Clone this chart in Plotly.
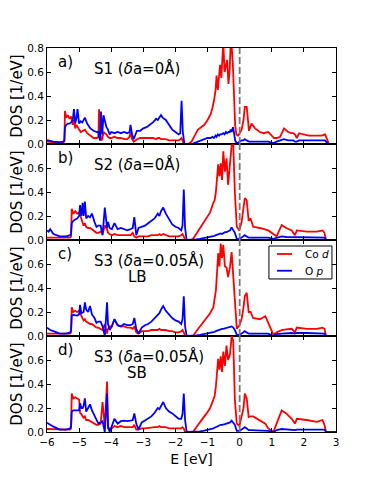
import plotly.graph_objects as go
from plotly.subplots import make_subplots

# energy grid for S1 (eV)
e_s1 = [-6.0, -5.8, -5.6, -5.5, -5.46, -5.44, -5.4, -5.35, -5.3, -5.25,
        -5.2, -5.16, -5.12, -5.08, -5.05, -5.0, -4.95, -4.9, -4.82, -4.75,
        -4.65, -4.55, -4.45, -4.4, -4.38, -4.35, -4.32, -4.28, -4.24, -4.2,
        -4.15, -4.1, -4.05, -4.0, -3.9, -3.8, -3.7, -3.6, -3.5, -3.43,
        -3.4, -3.35, -3.3, -3.2, -3.1, -3.0, -2.9, -2.8, -2.7, -2.6,
        -2.55, -2.5, -2.45, -2.4, -2.3, -2.2, -2.1, -2.0, -1.9, -1.85,
        -1.81, -1.77, -1.72, -1.6, -1.5, -1.4, -1.3, -1.2, -1.1, -1.0,
        -0.9, -0.85, -0.8, -0.75, -0.72, -0.68, -0.64, -0.61, -0.57, -0.54,
        -0.51, -0.47, -0.43, -0.39, -0.35, -0.31, -0.28, -0.25, -0.21, -0.18,
        -0.14, -0.1, -0.05, 0.0, 0.06, 0.12, 0.16, 0.22, 0.29, 0.37,
        0.48, 0.63, 0.75, 0.89, 1.0, 1.07, 1.15, 1.26, 1.38, 1.51,
        1.6, 1.67, 1.72, 1.78, 1.85, 1.98, 2.15, 2.29, 2.45, 2.55,
        2.66, 2.72, 2.78, 3.0]

cod_s1 = [0.02, 0.012, 0.01, 0.012, 0.02, 0.275, 0.22, 0.24, 0.21, 0.23,
          0.16, 0.20, 0.13, 0.16, 0.14, 0.12, 0.10, 0.11, 0.12, 0.09,
          0.07, 0.05, 0.05, 0.06, 0.29, 0.10, 0.03, 0.04, 0.10, 0.09,
          0.08, 0.06, 0.05, 0.05, 0.06, 0.05, 0.05, 0.04, 0.04, 0.06,
          0.10, 0.04, 0.02, 0.04, 0.05, 0.05, 0.05, 0.05, 0.05, 0.04,
          0.05, 0.05, 0.04, 0.04, 0.04, 0.03, 0.03, 0.03, 0.03, 0.04,
          0.05, 0.02, 0.0, 0.0, 0.02, 0.07, 0.12, 0.14, 0.16, 0.20,
          0.25, 0.30, 0.36, 0.45, 0.57, 0.45, 0.60, 0.66, 0.55, 0.68,
          0.85, 0.60, 0.64, 0.70, 0.50, 0.62, 0.85, 0.82, 0.65, 0.40,
          0.15, 0.08, 0.07, 0.09, 0.12, 0.20, 0.31, 0.31, 0.11, 0.17,
          0.13, 0.10, 0.09, 0.10, 0.07, 0.05, 0.05, 0.06, 0.13, 0.10,
          0.09, 0.09, 0.08, 0.05, 0.09, 0.08, 0.07, 0.07, 0.07, 0.07,
          0.08, 0.03, 0.0, 0.0]

op_s1 = [0.033, 0.02, 0.015, 0.02, 0.03, 0.14, 0.16, 0.17, 0.17, 0.18,
         0.20, 0.29, 0.17, 0.22, 0.29, 0.17, 0.19, 0.18, 0.22, 0.17,
         0.13, 0.11, 0.10, 0.10, 0.06, 0.03, 0.27, 0.08, 0.24, 0.20,
         0.14, 0.12, 0.08, 0.10, 0.09, 0.10, 0.09, 0.10, 0.09, 0.10,
         0.16, 0.08, 0.04, 0.11, 0.11, 0.13, 0.14, 0.16, 0.18, 0.21,
         0.20, 0.22, 0.24, 0.22, 0.20, 0.16, 0.12, 0.10, 0.08, 0.09,
         0.36, 0.10, 0.0, 0.0, 0.0, 0.01, 0.02, 0.03, 0.04, 0.05,
         0.05, 0.06, 0.05, 0.07, 0.06, 0.08, 0.07, 0.08, 0.08, 0.09,
         0.09, 0.08, 0.10, 0.09, 0.10, 0.10, 0.12, 0.10, 0.14, 0.10,
         0.03, 0.01, 0.01, 0.02, 0.03, 0.03, 0.04, 0.03, 0.02, 0.02,
         0.02, 0.02, 0.02, 0.02, 0.01, 0.01, 0.02, 0.03, 0.04, 0.03,
         0.03, 0.03, 0.02, 0.02, 0.03, 0.03, 0.03, 0.03, 0.03, 0.03,
         0.03, 0.01, 0.0, 0.0]

# energy grid shared by S2 and both S3 cases (eV)
e_s23 = [-6.0, -5.95, -5.9, -5.8, -5.6, -5.4, -5.28, -5.25, -5.23, -5.18,
         -5.12, -5.06, -5.0, -4.97, -4.93, -4.89, -4.86, -4.82, -4.78, -4.72,
         -4.66, -4.6, -4.52, -4.46, -4.4, -4.33, -4.27, -4.2, -4.13, -4.1,
         -4.05, -3.98, -3.9, -3.8, -3.7, -3.6, -3.5, -3.4, -3.33, -3.28,
         -3.22, -3.15, -3.05, -2.95, -2.85, -2.75, -2.65, -2.55, -2.5, -2.45,
         -2.38, -2.3, -2.2, -2.1, -2.0, -1.9, -1.82, -1.78, -1.74, -1.7,
         -1.65, -1.5, -1.45, -1.35, -1.24, -1.13, -1.03, -0.92, -0.82, -0.78,
         -0.74, -0.7, -0.67, -0.63, -0.59, -0.55, -0.51, -0.46, -0.41, -0.36,
         -0.3, -0.25, -0.2, -0.15, -0.09, -0.01, 0.06, 0.12, 0.16, 0.22,
         0.28, 0.34, 0.42, 0.63, 0.8, 0.89, 1.05, 1.15, 1.31, 1.45,
         1.62, 1.72, 1.78, 2.09, 2.4, 2.58, 2.64, 2.69, 3.0]

cod_s2 = [0.02, 0.02, 0.02, 0.015, 0.015, 0.015, 0.02, 0.03, 0.26, 0.22,
          0.24, 0.22, 0.23, 0.21, 0.17, 0.15, 0.12, 0.14, 0.11, 0.10,
          0.10, 0.09, 0.07, 0.06, 0.06, 0.07, 0.05, 0.12, 0.09, 0.06,
          0.05, 0.04, 0.05, 0.04, 0.04, 0.04, 0.035, 0.04, 0.06, 0.03,
          0.02, 0.03, 0.03, 0.03, 0.03, 0.04, 0.04, 0.04, 0.05, 0.04,
          0.05, 0.04, 0.03, 0.03, 0.03, 0.03, 0.04, 0.05, 0.03, 0.0,
          0.0, 0.0, 0.01, 0.05, 0.10, 0.14, 0.18, 0.23, 0.31, 0.33,
          0.40, 0.55, 0.63, 0.53, 0.64, 0.50, 0.74, 0.57, 0.68, 0.46,
          0.66, 0.79, 0.80, 0.40, 0.11, 0.08, 0.15, 0.25, 0.35, 0.33,
          0.16, 0.18, 0.11, 0.10, 0.09, 0.08, 0.05, 0.03, 0.125, 0.10,
          0.08, 0.04, 0.08, 0.07, 0.07, 0.08, 0.06, 0.0, 0.0]

op_s2 = [0.08, 0.07, 0.09, 0.05, 0.03, 0.03, 0.04, 0.05, 0.14, 0.16,
         0.17, 0.18, 0.20, 0.29, 0.20, 0.31, 0.20, 0.32, 0.18, 0.20,
         0.19, 0.22, 0.15, 0.11, 0.12, 0.12, 0.04, 0.27, 0.10, 0.15,
         0.10, 0.09, 0.14, 0.09, 0.10, 0.09, 0.08, 0.09, 0.10, 0.19,
         0.04, 0.10, 0.11, 0.12, 0.14, 0.16, 0.18, 0.22, 0.20, 0.24,
         0.27, 0.22, 0.18, 0.13, 0.11, 0.10, 0.08, 0.12, 0.42, 0.10,
         0.0, 0.0, 0.0, 0.005, 0.01, 0.015, 0.02, 0.025, 0.03, 0.035,
         0.04, 0.045, 0.05, 0.05, 0.055, 0.05, 0.06, 0.065, 0.065, 0.07,
         0.08, 0.105, 0.08, 0.06, 0.01, 0.01, 0.02, 0.03, 0.04, 0.03,
         0.02, 0.02, 0.02, 0.02, 0.02, 0.02, 0.01, 0.02, 0.03, 0.025,
         0.025, 0.02, 0.025, 0.025, 0.025, 0.025, 0.02, 0.0, 0.0]

cod_s3_lb = [0.02, 0.02, 0.02, 0.02, 0.02, 0.02, 0.02, 0.03, 0.24, 0.20,
             0.21, 0.20, 0.21, 0.19, 0.17, 0.14, 0.13, 0.14, 0.12, 0.11,
             0.10, 0.10, 0.08, 0.07, 0.07, 0.06, 0.05, 0.10, 0.02, 0.06,
             0.08, 0.08, 0.14, 0.09, 0.08, 0.08, 0.07, 0.07, 0.06, 0.08,
             0.03, 0.02, 0.04, 0.04, 0.04, 0.05, 0.05, 0.05, 0.06, 0.05,
             0.05, 0.05, 0.04, 0.04, 0.03, 0.03, 0.04, 0.05, 0.03, 0.0,
             0.0, 0.0, 0.0, 0.04, 0.08, 0.11, 0.15, 0.19, 0.24, 0.30,
             0.38, 0.55, 0.69, 0.58, 0.77, 0.65, 0.76, 0.58, 0.57, 0.49,
             0.58, 0.70, 0.49, 0.24, 0.06, 0.09, 0.14, 0.24, 0.33, 0.36,
             0.20, 0.20, 0.15, 0.14, 0.165, 0.11, 0.01, 0.03, 0.05, 0.055,
             0.06, 0.03, 0.07, 0.06, 0.06, 0.07, 0.06, 0.0, 0.0]

op_s3_lb = [0.07, 0.06, 0.05, 0.04, 0.02, 0.02, 0.03, 0.05, 0.17, 0.175,
            0.17, 0.17, 0.18, 0.26, 0.19, 0.20, 0.20, 0.28, 0.22, 0.20,
            0.25, 0.18, 0.15, 0.11, 0.12, 0.12, 0.08, 0.0, 0.28, 0.10,
            0.05, 0.08, 0.14, 0.09, 0.08, 0.10, 0.09, 0.09, 0.10, 0.15,
            0.06, 0.02, 0.07, 0.09, 0.10, 0.12, 0.15, 0.18, 0.19, 0.22,
            0.25, 0.21, 0.18, 0.15, 0.13, 0.12, 0.10, 0.14, 0.33, 0.08,
            0.0, 0.0, 0.0, 0.005, 0.01, 0.015, 0.02, 0.025, 0.03, 0.035,
            0.04, 0.045, 0.05, 0.05, 0.055, 0.06, 0.06, 0.065, 0.07, 0.07,
            0.075, 0.08, 0.07, 0.05, 0.01, 0.01, 0.02, 0.03, 0.04, 0.03,
            0.02, 0.02, 0.02, 0.02, 0.02, 0.02, 0.0, 0.015, 0.02, 0.025,
            0.025, 0.02, 0.025, 0.025, 0.025, 0.025, 0.02, 0.0, 0.0]

cod_s3_sb = [0.025, 0.025, 0.025, 0.02, 0.02, 0.02, 0.02, 0.03, 0.32, 0.28,
             0.29, 0.28, 0.27, 0.16, 0.15, 0.13, 0.12, 0.13, 0.10, 0.10,
             0.09, 0.08, 0.07, 0.06, 0.06, 0.07, 0.25, 0.05, 0.42, 0.03,
             0.03, 0.03, 0.05, 0.04, 0.05, 0.04, 0.04, 0.04, 0.04, 0.06,
             0.02, 0.02, 0.03, 0.03, 0.035, 0.04, 0.04, 0.04, 0.05, 0.04,
             0.04, 0.04, 0.03, 0.03, 0.03, 0.03, 0.03, 0.04, 0.03, 0.0,
             0.0, 0.0, 0.0, 0.04, 0.085, 0.12, 0.155, 0.20, 0.27, 0.30,
             0.38, 0.50, 0.61, 0.52, 0.63, 0.50, 0.67, 0.55, 0.72, 0.60,
             0.65, 0.80, 0.76, 0.27, 0.07, 0.05, 0.12, 0.20, 0.32, 0.28,
             0.125, 0.13, 0.13, 0.10, 0.07, 0.03, 0.0, 0.07, 0.18, 0.155,
             0.11, 0.07, 0.11, 0.10, 0.085, 0.10, 0.06, 0.0, 0.0]

op_s3_sb = [0.078, 0.065, 0.06, 0.045, 0.02, 0.02, 0.03, 0.05, 0.17, 0.18,
            0.18, 0.175, 0.18, 0.24, 0.20, 0.20, 0.22, 0.28, 0.17, 0.20,
            0.23, 0.18, 0.14, 0.10, 0.07, 0.08, 0.09, 0.0, 0.32, 0.05,
            0.0, 0.05, 0.11, 0.07, 0.09, 0.095, 0.09, 0.095, 0.10, 0.155,
            0.07, 0.02, 0.08, 0.095, 0.11, 0.13, 0.16, 0.20, 0.19, 0.22,
            0.25, 0.20, 0.17, 0.155, 0.13, 0.11, 0.11, 0.15, 0.32, 0.10,
            0.0, 0.0, 0.0, 0.005, 0.005, 0.01, 0.015, 0.02, 0.03, 0.035,
            0.04, 0.05, 0.05, 0.055, 0.06, 0.06, 0.065, 0.065, 0.07, 0.075,
            0.08, 0.095, 0.075, 0.06, 0.01, 0.01, 0.02, 0.03, 0.04, 0.03,
            0.015, 0.015, 0.015, 0.015, 0.01, 0.01, 0.0, 0.015, 0.025, 0.02,
            0.02, 0.015, 0.02, 0.02, 0.02, 0.025, 0.02, 0.0, 0.0]

panel_letters = ["a)", "b)", "c)", "d)"]
panel_titles = ["S1 (<i>δ</i>a=0Å)", "S2 (<i>δ</i>a=0Å)",
                "S3 (<i>δ</i>a=0.05Å)", "S3 (<i>δ</i>a=0.05Å)"]
panel_tags = ["", "", "LB", "SB"]
series_names = ["Co <i>d</i>", "O <i>p</i>"]
series_colors = ["#ff0000", "#0000ff"]

panels = [
    (e_s1, cod_s1, op_s1),
    (e_s23, cod_s2, op_s2),
    (e_s23, cod_s3_lb, op_s3_lb),
    (e_s23, cod_s3_sb, op_s3_sb),
]

FONT = "DejaVu Sans"
fig = make_subplots(rows=4, cols=1, shared_xaxes=True, vertical_spacing=0)

for i, (e, cod, op) in enumerate(panels):
    row = i + 1
    for vals, name, color in zip([cod, op], series_names, series_colors):
        fig.add_trace(go.Scatter(x=e, y=vals, mode="lines", name=name,
                                 line=dict(color=color, width=1.8),
                                 showlegend=False), row=row, col=1)
    fig.add_vline(x=0, line=dict(color="#777777", width=1.8, dash="7px,3px"),
                  row=row, col=1)

    xref = "x domain" if row == 1 else "x%d domain" % row
    yref = "y domain" if row == 1 else "y%d domain" % row
    fig.add_annotation(text=panel_letters[i], xref=xref, yref=yref, x=0.03, y=0.855,
                       xanchor="left", yanchor="middle", showarrow=False,
                       font=dict(size=15, family=FONT, color="black"))
    fig.add_annotation(text=panel_titles[i], xref=xref, yref=yref, x=0.155, y=0.785,
                       xanchor="left", yanchor="middle", showarrow=False,
                       font=dict(size=15, family=FONT, color="black"))
    if panel_tags[i]:
        fig.add_annotation(text=panel_tags[i], xref=xref, yref=yref, x=0.313, y=0.615,
                           xanchor="center", yanchor="middle", showarrow=False,
                           font=dict(size=15, family=FONT, color="black"))

    yticks = [0, 0.2, 0.4, 0.6, 0.8] if row == 1 else [0, 0.2, 0.4, 0.6]
    fig.update_yaxes(range=[0, 0.8], tickvals=yticks, tickformat=".1f",
                     title=dict(text="DOS [1/eV]", font=dict(size=15, family=FONT),
                                standoff=2),
                     row=row, col=1)

# legend box drawn inside panel c)
lx, ly = "x3 domain", "y3 domain"
fig.add_shape(type="rect", xref=lx, yref=ly, x0=0.768, x1=0.986, y0=0.594, y1=0.9375,
              line=dict(color="black", width=1), fillcolor="white", layer="above")
for name, color, yy in zip(series_names, series_colors, [0.854, 0.68]):
    fig.add_shape(type="line", xref=lx, yref=ly, x0=0.796, x1=0.848, y0=yy, y1=yy,
                  line=dict(color=color, width=1.8), layer="above")
    fig.add_annotation(text=name, xref=lx, yref=ly, x=0.885, y=yy, xanchor="left",
                       yanchor="middle", showarrow=False,
                       font=dict(size=10.5, family=FONT, color="black"))

fig.update_xaxes(range=[-6, 3], tickvals=list(range(-6, 4)), showgrid=False, zeroline=False,
                 showline=True, linecolor="black", linewidth=1, mirror="ticks",
                 ticks="inside", ticklen=4, tickcolor="black", ticklabelstandoff=0,
                 tickfont=dict(size=10.5, family=FONT, color="black"))
fig.update_yaxes(showgrid=False, zeroline=False, showline=True, linecolor="black",
                 linewidth=1, mirror="ticks", ticks="inside", ticklen=4,
                 tickcolor="black", automargin=False,
                 tickfont=dict(size=10.5, family=FONT, color="black"))
fig.update_xaxes(title=dict(text="E [eV]", font=dict(size=14, family=FONT), standoff=7),
                 automargin=False, row=4, col=1)

# page body adds an 8px margin, so the figure is 8px smaller than the window
fig.update_layout(
    width=366, height=473,
    margin=dict(l=39, r=38, t=40, b=49),
    paper_bgcolor="white", plot_bgcolor="white",
    font=dict(family=FONT, color="black"),
    showlegend=False,
)

fig.write_html("out.html")
